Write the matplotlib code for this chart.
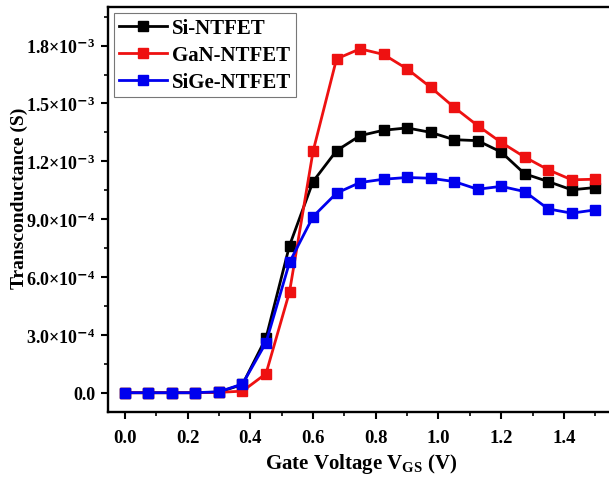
import numpy as np
import matplotlib
matplotlib.use("Agg")
from matplotlib import pyplot as plt
from matplotlib.ticker import MultipleLocator, FuncFormatter

plt.rcParams['font.family'] = ['Liberation Serif', 'DejaVu Serif']
plt.rcParams['font.weight'] = 'bold'
plt.rcParams['mathtext.fontset'] = 'custom'
plt.rcParams['mathtext.rm'] = 'Liberation Serif:bold'
plt.rcParams['mathtext.bf'] = 'Liberation Serif:bold'
plt.rcParams['mathtext.it'] = 'Liberation Serif:bold'

# gate voltage sweep (V)
vgs = [0.0, 0.075, 0.15, 0.225, 0.3, 0.375, 0.45, 0.525, 0.6, 0.675, 0.75,
       0.825, 0.9, 0.975, 1.05, 1.125, 1.2, 1.275, 1.35, 1.425, 1.5]

# transconductance (S)
gm_si = [0.0, 0.0, 0.0, 0.0, 0.3e-5, 4.3e-5, 2.84e-4, 7.63e-4, 1.095e-3,
         1.255e-3, 1.333e-3, 1.361e-3, 1.373e-3, 1.350e-3, 1.312e-3,
         1.307e-3, 1.248e-3, 1.135e-3, 1.095e-3, 1.052e-3, 1.064e-3]
gm_gan = [0.0, 0.0, 0.0, 0.0, 0.2e-5, 0.8e-5, 0.99e-4, 5.23e-4, 1.251e-3,
          1.731e-3, 1.783e-3, 1.754e-3, 1.679e-3, 1.584e-3, 1.480e-3,
          1.385e-3, 1.298e-3, 1.222e-3, 1.156e-3, 1.104e-3, 1.107e-3]
gm_sige = [0.0, 0.0, 0.0, 0.0, 0.5e-5, 4.5e-5, 2.6e-4, 6.76e-4, 9.13e-4,
           1.035e-3, 1.090e-3, 1.107e-3, 1.116e-3, 1.112e-3, 1.095e-3,
           1.055e-3, 1.070e-3, 1.043e-3, 9.53e-4, 9.31e-4, 9.48e-4]

series = [("Si-NTFET", gm_si, "#000000"),
          ("GaN-NTFET", gm_gan, "#ee1111"),
          ("SiGe-NTFET", gm_sige, "#0000ee")]


def sciLabel(val, pos):
  if abs(val) < 1e-12:
    return '0.0'
  exp = int(np.floor(np.log10(abs(val))))
  mant = val / 10 ** exp
  return '%.1f×10$^{\\mathsf{-}%d}$' % (mant, -exp)


fig = plt.figure(figsize=(6.09, 4.81), dpi=100)
ax = fig.add_axes([108 / 609, 68 / 481, 501 / 609, 405 / 481])

for name, gm, col in series:
  ax.plot(vgs, gm, color=col, lw=2.0, marker='s', ms=6.5, label=name)

ax.set_xlim(-0.054, 1.544)
ax.set_ylim(-1.0e-4, 2.0e-3)
ax.xaxis.set_major_locator(MultipleLocator(0.2))
ax.xaxis.set_minor_locator(MultipleLocator(0.1))
ax.yaxis.set_major_locator(MultipleLocator(3e-4))
ax.yaxis.set_minor_locator(MultipleLocator(1.5e-4))
ax.xaxis.set_major_formatter(FuncFormatter(lambda v, p: '%.1f' % v))
ax.yaxis.set_major_formatter(FuncFormatter(sciLabel))

ax.tick_params(which='major', direction='out', length=5, width=1.5,
               top=False, right=False)
ax.tick_params(axis='x', which='major', pad=7, labelsize=13.5)
ax.tick_params(axis='y', which='major', pad=4, labelsize=13)
ax.tick_params(which='minor', direction='out', length=3, width=1.2,
               top=False, right=False)
for side in ['left', 'bottom', 'top']:
  ax.spines[side].set_linewidth(1.7)
ax.spines['right'].set_visible(False)

ax.set_xlabel(r'Gate Voltage V$_{\mathrm{GS}}$ (V)', fontsize=15,
              fontweight='bold')
ax.set_ylabel('Transconductance (S)', fontsize=14, fontweight='bold')
ax.xaxis.set_label_coords(0.505, -0.097)
ax.yaxis.set_label_coords(-0.16, 0.531)

leg = ax.legend(loc='upper left', fontsize=15, frameon=True, fancybox=False,
                edgecolor='#555555', borderaxespad=0.3, handlelength=2.3,
                handletextpad=0.2, labelspacing=0.33, borderpad=0.25)
leg.get_frame().set_linewidth(0.8)

fig.savefig('out.png', dpi=100)
